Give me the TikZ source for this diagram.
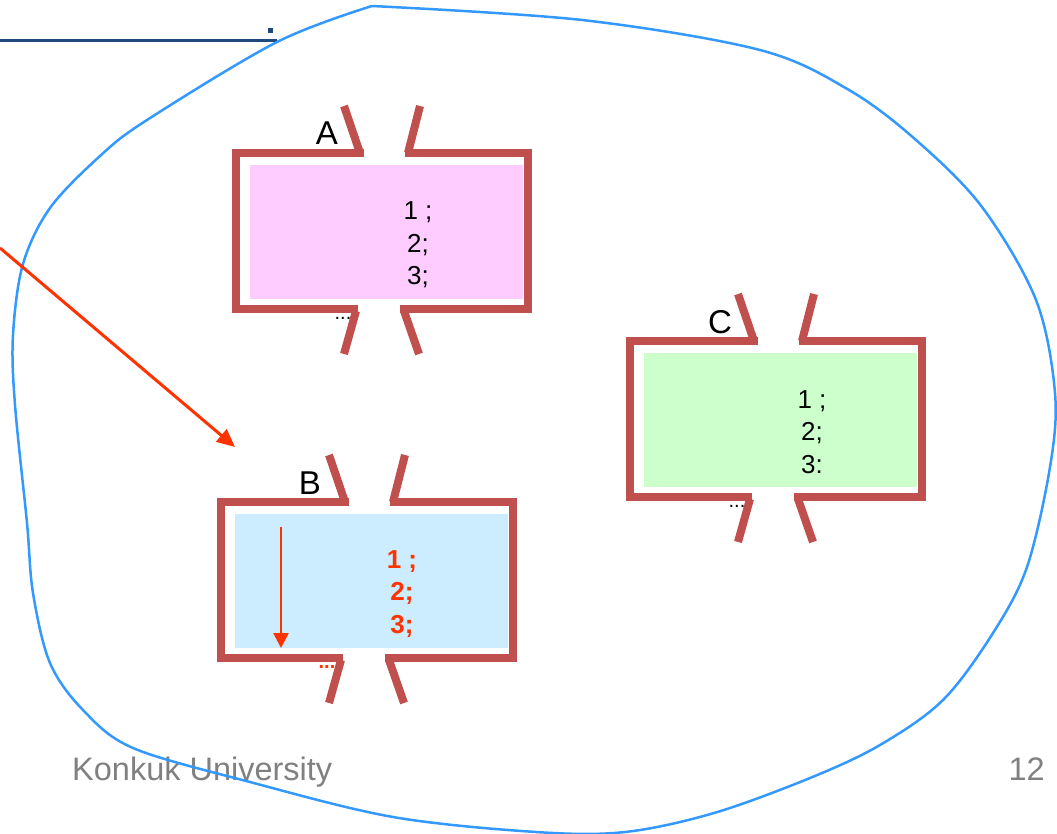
\documentclass[tikz,border=0pt]{standalone}
\usepackage{fontspec}
\setmainfont{Liberation Sans}
\usetikzlibrary{arrows.meta}

\definecolor{wallred}{RGB}{192,80,77}
\definecolor{scopeblue}{RGB}{51,153,255}
\definecolor{hot}{RGB}{255,51,0}
\definecolor{rule}{RGB}{31,73,125}
\definecolor{pinkfill}{RGB}{255,204,255}
\definecolor{bluefill}{RGB}{204,236,255}
\definecolor{greenfill}{RGB}{204,255,204}
\definecolor{footgray}{RGB}{128,128,128}

\begin{document}
\begin{tikzpicture}
  [x=1pt, y=-1pt,
   wall/.style={draw=wallred, line width=8pt},
   stmts/.style={align=center, inner sep=0pt, font=\fontsize{26}{32.5}\selectfont},
   boxname/.style={inner sep=0pt, font=\fontsize{33}{40}\selectfont},
   dots/.style={inner sep=0pt, anchor=base, font=\fontsize{20}{24}\selectfont},
   foot/.style={inner sep=0pt, anchor=base west, text=footgray, font=\fontsize{32.5}{39}\selectfont}]
  \useasboundingbox (0,0) rectangle (1057,833);
  % title rule, top left
  \draw[rule, line width=3pt] (0,40) -- (277,40);
  \fill[rule] (268,28) rectangle (273,33);
  % footer
  \node[foot] (uni) at (72,780) {Konkuk University};
  \node[foot, anchor=base east] (page) at (1045,780) {12};
  % the blue outline round the three boxes
  \draw[scopeblue, line width=2.5pt] plot[smooth, tension=0.55] coordinates {
    (372,6) (582,20) (760,50) (849,90) (916,140) (982,207) (1036,300)
    (1055,393) (1050,467) (1027,567) (993,633) (943,700) (880,745)
    (810,778) (714,813) (625,832) (536,832) (393,817) (250,782)
    (133,748) (83,710) (50,663) (33,593) (27,523) (15,405) (13,335)
    (23,264) (50,208) (100,156) (147,120) (277,42) (372,6)};
  % Box A
  \begin{scope}[shift={(236,153)}]
    \fill[pinkfill] (14,12) rectangle (287,146);
    \draw[wall] (128,0) -- (0,0) -- (0,156) -- (122,156)
                (169,0) -- (292,0) -- (292,156) -- (164,156);
    \draw[wall] (108,-47) -- (124,0)  (184,-47) -- (172,0)
                (120,158) -- (108,201)  (168,158) -- (183,201);
    \node[boxname] (A) at (91,-20) {A};
    \node[stmts] (codeA) at (182,92) {1 ;\\2;\\3;};
    \node[dots] (dotsA) at (107,166) {...};
  \end{scope}
  % Box B
  \begin{scope}[shift={(221,502)}]
    \fill[bluefill] (14,12) rectangle (287,146);
    \draw[wall] (128,0) -- (0,0) -- (0,156) -- (122,156)
                (169,0) -- (292,0) -- (292,156) -- (164,156);
    \draw[wall] (108,-47) -- (124,0)  (184,-47) -- (172,0)
                (120,158) -- (108,201)  (168,158) -- (183,201);
    \node[boxname] (B) at (89,-19) {B};
    \node[stmts, text=hot, font=\fontsize{26}{32.5}\selectfont\bfseries] (codeB) at (181,92) {1 ;\\2;\\3;};
    \node[dots, text=hot, font=\fontsize{20}{24}\selectfont\bfseries] (dotsB) at (106,166) {...};
    \coordinate (runTop) at (60,25);
    \coordinate (runEnd) at (60,146);
    \draw[hot, line width=2.5pt, -{Triangle[length=15pt,width=15pt]}] (runTop) -- (runEnd);
  \end{scope}
  % Box C
  \begin{scope}[shift={(630,341)}]
    \fill[greenfill] (14,12) rectangle (287,146);
    \draw[wall] (128,0) -- (0,0) -- (0,156) -- (122,156)
                (169,0) -- (292,0) -- (292,156) -- (164,156);
    \draw[wall] (108,-47) -- (124,0)  (184,-47) -- (172,0)
                (120,158) -- (108,201)  (168,158) -- (183,201);
    \node[boxname] (C) at (90,-19) {C};
    \node[stmts] (codeC) at (182,91) {1 ;\\2;\\3:};
    \node[dots] (dotsC) at (107,166) {...};
  \end{scope}
  % the call arrow coming in from the left
  \coordinate (callFrom) at (0,248);
  \coordinate (callTo) at (235,447);
  \draw[hot, line width=3pt, -{Triangle[length=18pt,width=16pt]}] (callFrom) -- (callTo);
\end{tikzpicture}
\end{document}
